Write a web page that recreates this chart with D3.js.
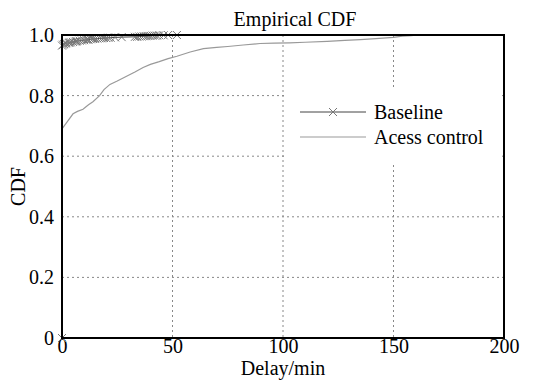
<!DOCTYPE html>
<html lang="en">
  <head>
    <meta charset="UTF-8">
    <title>Empirical CDF</title>
    <style>
      body { margin: 0; background: #fff; }
      svg { display: block; }
      text { font-family: "Liberation Serif", "Times New Roman", serif; fill: #000; }
    </style>
    <script src="https://d3js.org/d3.v7.min.js"></script>
  </head>
  <body>
    <script>
      var xTicks = [0, 50, 100, 150, 200];
      var yTicks = [0, 0.2, 0.4, 0.6, 0.8, 1.0];
      var yTickLabels = ["0", "0.2", "0.4", "0.6", "0.8", "1.0"];
      var seriesNames = ["Baseline", "Acess control"];

      // Baseline: jumps to ~0.97 right at zero, then creeps up to 1
      var baseX = [0, 0, 0.5, 1, 1.5, 2, 3, 3.5, 4, 5, 6, 6.5, 7, 8, 9, 10, 11, 11.5, 12, 13,
                   14, 15, 16, 17, 18, 19, 20, 21, 22, 24, 27, 33, 34, 35, 36, 37, 38, 39, 40,
                   41, 42, 43, 44, 46, 48, 52];
      var baseY = [0, 0.965, 0.968, 0.97, 0.972, 0.973, 0.974, 0.975, 0.976, 0.977, 0.978, 0.979,
                   0.98, 0.981, 0.982, 0.983, 0.984, 0.985, 0.985, 0.986, 0.987, 0.987, 0.988,
                   0.989, 0.989, 0.99, 0.99, 0.991, 0.991, 0.992, 0.993, 0.994, 0.994, 0.995,
                   0.995, 0.996, 0.996, 0.997, 0.997, 0.998, 0.998, 0.998, 0.999, 0.999, 1.0, 1.0];

      // Access control
      var accX = [0, 2, 5, 7, 9.5, 12, 14, 17, 19, 21.7, 25, 29, 33, 36.7, 40, 44, 48, 52, 58,
                  64, 70, 75, 82, 89.6, 96, 103, 110, 120, 128, 135, 142, 150, 154, 158, 161];
      var accY = [0.69, 0.71, 0.74, 0.748, 0.755, 0.77, 0.78, 0.8, 0.82, 0.837, 0.848, 0.863,
                  0.878, 0.893, 0.903, 0.912, 0.922, 0.93, 0.944, 0.955, 0.959, 0.962, 0.967,
                  0.972, 0.973, 0.974, 0.976, 0.979, 0.982, 0.985, 0.988, 0.992, 0.996, 0.998, 1.0];

      (function () {
        var width = 535, height = 386;
        var pl = 62, pr = 504, pt = 35, pb = 338;

        var x = d3.scaleLinear().domain([0, 200]).range([pl, pr]);
        var y = d3.scaleLinear().domain([0, 1]).range([pb, pt]);

        var svg = d3.select("body").append("svg")
          .attr("width", width)
          .attr("height", height);

        // grid
        svg.append("g").selectAll("line").data(yTicks.slice(1, -1)).enter().append("line")
          .attr("x1", pl).attr("x2", pr)
          .attr("y1", function (d) { return y(d); })
          .attr("y2", function (d) { return y(d); })
          .attr("stroke", "#888").attr("stroke-width", 1).attr("stroke-dasharray", "2,3");
        svg.append("g").selectAll("line").data(xTicks.slice(1, -1)).enter().append("line")
          .attr("y1", pt).attr("y2", pb)
          .attr("x1", function (d) { return x(d); })
          .attr("x2", function (d) { return x(d); })
          .attr("stroke", "#888").attr("stroke-width", 1).attr("stroke-dasharray", "2,3");

        // axes (labels only, the frame is drawn below)
        var xAxis = d3.axisBottom(x).tickValues(xTicks).tickSize(0).tickPadding(1);
        var yAxis = d3.axisLeft(y).tickValues(yTicks).tickSize(0).tickPadding(8)
          .tickFormat(function (d, i) { return yTickLabels[i]; });

        var gx = svg.append("g").attr("transform", "translate(0," + pb + ")").call(xAxis);
        var gy = svg.append("g").attr("transform", "translate(" + pl + ",0)").call(yAxis);
        [gx, gy].forEach(function (g) {
          g.select(".domain").remove();
          g.selectAll("text").style("font-size", "20px").style("font-family", "'Liberation Serif', serif").attr("fill", "#000");
        });

        var line = d3.line()
          .x(function (d) { return x(d[0]); })
          .y(function (d) { return y(d[1]); });

        // access control line
        var accData = accX.map(function (v, i) { return [v, accY[i]]; });
        svg.append("path").datum(accData)
          .attr("d", line)
          .attr("fill", "none").attr("stroke", "#999").attr("stroke-width", 1.2);

        // baseline with x markers
        var baseData = baseX.map(function (v, i) { return [v, baseY[i]]; });
        svg.append("path").datum(baseData)
          .attr("d", line)
          .attr("fill", "none").attr("stroke", "#444").attr("stroke-width", 1);

        var cross = function (sel, s) {
          sel.append("path")
            .attr("d", "M" + (-s) + "," + (-s) + "L" + s + "," + s + "M" + (-s) + "," + s + "L" + s + "," + (-s))
            .attr("stroke", "#777").attr("stroke-width", 1).attr("fill", "none");
        };
        var marks = svg.append("g").selectAll("g").data(baseData).enter().append("g")
          .attr("transform", function (d) { return "translate(" + x(d[0]) + "," + y(d[1]) + ")"; });
        cross(marks, 4);

        // legend, white box hides the grid behind it
        var legend = svg.append("g");
        legend.append("rect").attr("x", 287).attr("y", 88).attr("width", 215).attr("height", 75)
          .attr("fill", "#fff");
        legend.append("line").attr("x1", 300).attr("x2", 366).attr("y1", 112).attr("y2", 112)
          .attr("stroke", "#444").attr("stroke-width", 1);
        var lm = legend.append("g").attr("transform", "translate(333,112)");
        cross(lm, 4);
        legend.append("text").attr("x", 374).attr("y", 119).style("font-size", "20px").text(seriesNames[0]);
        legend.append("line").attr("x1", 300).attr("x2", 366).attr("y1", 137).attr("y2", 137)
          .attr("stroke", "#999").attr("stroke-width", 1.2);
        legend.append("text").attr("x", 374).attr("y", 144).style("font-size", "20px").text(seriesNames[1]);

        // frame
        svg.append("rect")
          .attr("x", pl).attr("y", pt)
          .attr("width", pr - pl).attr("height", pb - pt)
          .attr("fill", "none").attr("stroke", "#000").attr("stroke-width", 2);

        // titles
        svg.append("text").attr("x", (pl + pr) / 2 + 12).attr("y", 26)
          .attr("text-anchor", "middle").style("font-size", "20px").text("Empirical CDF");
        svg.append("text").attr("x", (pl + pr) / 2).attr("y", 375)
          .attr("text-anchor", "middle").style("font-size", "20px").text("Delay/min");
        svg.append("text").attr("transform", "translate(25," + ((pt + pb) / 2) + ") rotate(-90)")
          .attr("text-anchor", "middle").style("font-size", "20px").text("CDF");
      })();
    </script>
  </body>
</html>
